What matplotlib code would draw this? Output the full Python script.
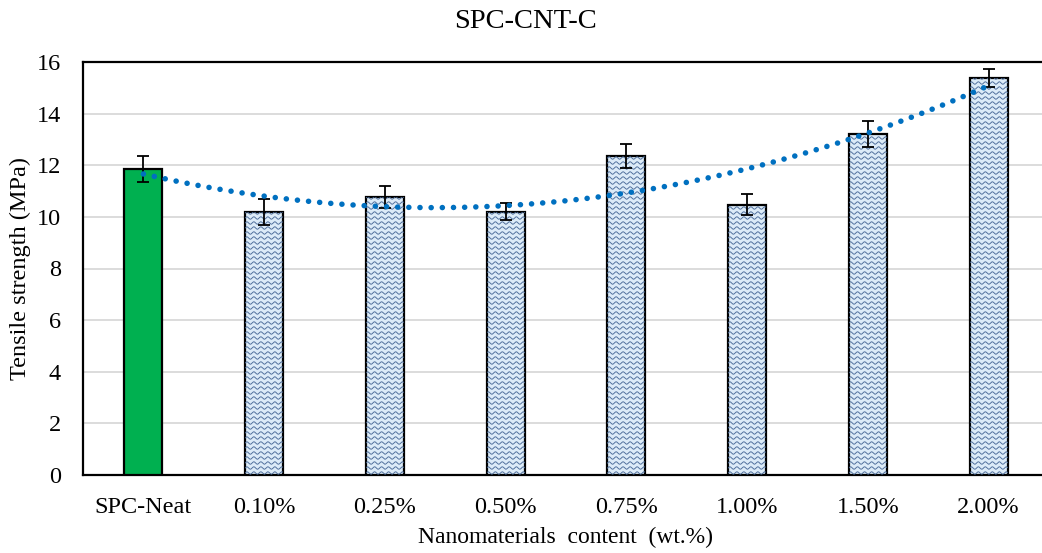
import numpy as np
import matplotlib
matplotlib.use("Agg")
import matplotlib.pyplot as plt
from matplotlib.transforms import IdentityTransform

categories = ["SPC-Neat", "0.10%", "0.25%", "0.50%", "0.75%", "1.00%", "1.50%", "2.00%"]
strength = [11.86, 10.19, 10.76, 10.19, 12.36, 10.47, 13.20, 15.39]
strength_err = [0.50, 0.50, 0.42, 0.33, 0.48, 0.40, 0.50, 0.35]
y_ticks = [0, 2, 4, 6, 8, 10, 12, 14, 16]

plt.rcParams["font.family"] = ["Liberation Serif", "DejaVu Serif"]

W, H, DPI = 1042, 553, 100
fig = plt.figure(figsize=(W / DPI, H / DPI), dpi=DPI)
ax = fig.add_axes([83 / W, 78 / H, 966 / W, 413 / H])

x = np.arange(1, len(categories) + 1)
colors = ["#00B050"] + ["#DCEBF8"] * (len(categories) - 1)
bars = ax.bar(x, strength, width=0.315, color=colors, edgecolor="black",
              linewidth=1.6, zorder=3)
ax.errorbar(x, strength, yerr=strength_err, fmt="none", ecolor="black",
            elinewidth=1.3, capsize=4.5, capthick=1.3, zorder=5)

# second-order polynomial trendline through all points
coef = np.polyfit(x, strength, 2)
xs = np.linspace(1, len(categories), 300)
ax.plot(xs, np.polyval(coef, xs), color="#0070C0", lw=4.0,
        linestyle=(0, (0.01, 2.0)), dash_capstyle="round", zorder=6)

ax.set_xlim(0.5, len(categories) + 0.5)
ax.set_ylim(0, 16)
ax.set_yticks(y_ticks)
ax.set_xticks(x)
ax.set_xticklabels(categories)
ax.tick_params(axis="both", length=0, labelsize=17.5, colors="black")
ax.tick_params(axis="x", pad=16)
ax.tick_params(axis="y", pad=16)
ax.yaxis.grid(True, color="#D9D9D9", linewidth=1.3, zorder=0)
ax.set_axisbelow(True)
for side in ["left", "bottom", "top", "right"]:
    ax.spines[side].set_color("black")
    ax.spines[side].set_linewidth(1.6)

ax.set_ylabel("Tensile strength (MPa)", fontsize=17.5, labelpad=4)
ax.set_xlabel("Nanomaterials  content  (wt.%)", fontsize=17, labelpad=6)
fig.text(526 / W, 1 - 22 / H, "SPC-CNT-C", fontsize=20.5,
         ha="center", va="center")

# wavy texture inside the patterned bars
fig.canvas.draw()
for b in bars.patches[1:]:
    x0, y0 = ax.transData.transform((b.get_x(), 0))
    x1, y1 = ax.transData.transform((b.get_x() + b.get_width(), b.get_height()))
    px = np.linspace(x0 - 2, x1 + 2, 200)
    row = y0 + 2
    while row < y1:
        py = row + 1.2 * np.sin(2 * np.pi * (px - x0) / 7.0)
        ln = ax.add_line(plt.Line2D(px, py, transform=IdentityTransform(),
                                    color="#4A6A98", lw=0.65, zorder=4))
        ln.set_clip_path(b)
        row += 5.0

fig.savefig("out.png", dpi=DPI)
